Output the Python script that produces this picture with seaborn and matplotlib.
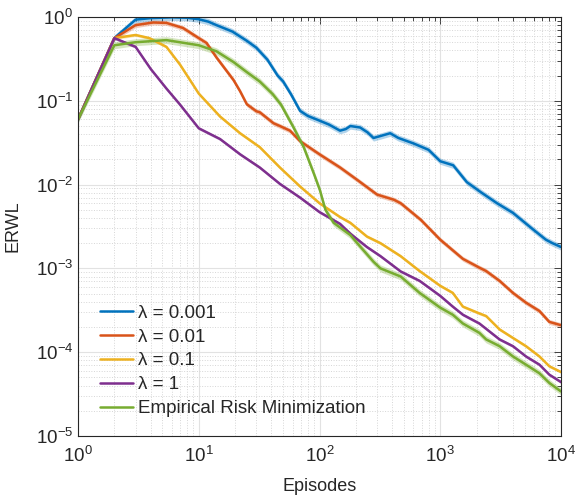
import numpy as np
import pandas as pd
import seaborn as sns
import matplotlib
matplotlib.use("Agg")
import matplotlib.pyplot as plt

# 데이터
labels = ["λ = 0.001", "λ = 0.01", "λ = 0.1", "λ = 1", "Empirical Risk Minimization"]
colors = ["#0072BD", "#D95319", "#EDB120", "#7E2F8E", "#77AC30"]

x_001 = [1, 2, 3, 4, 6, 8, 10, 12, 14, 19, 25, 30, 37, 45, 50, 58, 69, 80, 100, 120,
         148, 165, 180, 217, 250, 280, 320, 385, 450, 600, 800, 1000, 1280, 1660, 2200,
         2950, 4000, 5900, 7500, 8500, 10000]
y_001 = [0.06, 0.56, 0.93, 0.97, 0.99, 0.98, 0.94, 0.88, 0.80, 0.67, 0.52, 0.43, 0.31,
         0.20, 0.17, 0.12, 0.076, 0.066, 0.058, 0.052, 0.044, 0.046, 0.050, 0.048, 0.042,
         0.036, 0.038, 0.041, 0.036, 0.031, 0.026, 0.019, 0.017, 0.0107, 0.0080, 0.0060,
         0.0046, 0.0029, 0.0022, 0.0020, 0.0018]

x_01 = [1, 2, 3, 4.2, 5.4, 7.4, 10, 11.6, 14, 19.4, 22, 25, 30, 32, 41.6, 47, 57, 69,
        100, 148, 205, 300, 413, 470, 690, 1000, 1540, 2110, 2400, 3100, 4000, 5130,
        6630, 8000, 10000]
y_01 = [0.06, 0.56, 0.80, 0.86, 0.85, 0.74, 0.56, 0.49, 0.33, 0.177, 0.13, 0.091,
        0.075, 0.073, 0.054, 0.050, 0.044, 0.033, 0.023, 0.016, 0.0114, 0.0076, 0.0066,
        0.0060, 0.0038, 0.0022, 0.0013, 0.00102, 0.00093, 0.00071, 0.00051, 0.00039,
        0.00031, 0.00023, 0.00021]

x_1 = [1, 2, 3, 3.9, 5.4, 7, 10, 15, 22, 32, 47, 69, 100, 148, 180, 247, 320, 470,
       675, 1000, 1270, 1540, 2110, 2400, 3100, 4000, 5130, 6630, 8000, 10000]
y_1 = [0.06, 0.56, 0.61, 0.56, 0.44, 0.27, 0.122, 0.065, 0.041, 0.028, 0.016, 0.0095,
       0.0060, 0.0041, 0.0035, 0.0024, 0.0020, 0.0014, 0.00093, 0.00062, 0.00051,
       0.00035, 0.00029, 0.00027, 0.000187, 0.000148, 0.000118, 0.000089, 0.000068,
       0.000058]

x_10 = [1, 2, 3, 4, 5.4, 7, 10, 15, 22, 32, 47, 69, 100, 148, 180, 247, 320, 470,
        675, 1000, 1270, 1540, 2110, 3100, 4000, 5130, 6630, 8000, 10000]
y_10 = [0.06, 0.56, 0.44, 0.24, 0.14, 0.09, 0.047, 0.035, 0.023, 0.016, 0.0102, 0.0070,
        0.0047, 0.0034, 0.0026, 0.0018, 0.0014, 0.00092, 0.00071, 0.00047, 0.00035,
        0.00028, 0.00022, 0.000142, 0.000118, 0.000089, 0.000071, 0.000054, 0.000044]

x_erm = [1, 2, 3, 5.4, 10, 14, 19.4, 25, 32, 41, 48, 61, 74, 90, 101, 106, 112, 131,
         180, 219, 280, 320, 470, 675, 1000, 1270, 1540, 2110, 2400, 3100, 4000, 5130,
         6630, 8000, 10000]
y_erm = [0.06, 0.46, 0.50, 0.53, 0.46, 0.39, 0.29, 0.22, 0.17, 0.12, 0.09, 0.048, 0.028,
         0.0134, 0.0085, 0.0066, 0.0050, 0.0035, 0.0025, 0.0018, 0.0012, 0.0010, 0.0008,
         0.00051, 0.00034, 0.00028, 0.00022, 0.00017, 0.000142, 0.000118, 0.000089,
         0.000071, 0.000056, 0.000043, 0.000034]

# 음영 폭 (배수)
spread = [1.09, 1.07, 1.04, 1.04, 1.10]

series = [(x_001, y_001), (x_01, y_01), (x_1, y_1), (x_10, y_10), (x_erm, y_erm)]

frames = []
for name, (xs, ys) in zip(labels, series):
    frames.append(pd.DataFrame({"Episodes": xs, "ERWL": ys, "method": name}))
df = pd.concat(frames, ignore_index=True)

sns.set_style("white")
plt.rcParams["font.family"] = ["Liberation Sans", "DejaVu Sans"]
plt.rcParams["mathtext.fontset"] = "custom"
plt.rcParams["mathtext.rm"] = "Liberation Sans"
plt.rcParams["mathtext.it"] = "Liberation Sans:italic"

fig = plt.figure(figsize=(5.77, 4.98), dpi=100)
ax = fig.add_axes([78 / 577, 1 - 436 / 498, 483 / 577, 419 / 498])
ax.set_xscale("log")
ax.set_yscale("log")

for (xs, ys), c, f in zip(series, colors, spread):
    xs = np.array(xs)
    ys = np.array(ys)
    ax.fill_between(xs, ys / f, ys * f, color=c, alpha=0.3, lw=0)

sns.lineplot(data=df, x="Episodes", y="ERWL", hue="method", hue_order=labels,
             palette=colors, linewidth=1.8, estimator=None, ax=ax)

ax.set_xlim(1, 1e4)
ax.set_ylim(1e-5, 1)

ax.grid(True, which="major", color="#e2e2e2", linewidth=0.8)
ax.grid(True, which="minor", color="#d6d6d6", linestyle=":", linewidth=0.7)
ax.set_axisbelow(True)

for s in ax.spines.values():
    s.set_color("#262626")
    s.set_linewidth(0.8)
ax.tick_params(which="both", direction="in", top=True, right=True, colors="#262626",
               labelsize=13.5, width=0.6)
ax.tick_params(which="major", length=5)
ax.tick_params(which="minor", length=3)
ax.tick_params(axis="x", pad=7)

ax.set_xlabel("Episodes", fontsize=13, color="#262626", labelpad=9)
ax.set_ylabel("ERWL", fontsize=13, color="#262626", labelpad=10)

ax.legend(loc="lower left", bbox_to_anchor=(0.045, 0.045), frameon=False,
          fontsize=13.5, handlelength=1.8, handletextpad=0.25, labelspacing=0.36,
          borderpad=0, borderaxespad=0)

fig.savefig("out.png", dpi=100)
